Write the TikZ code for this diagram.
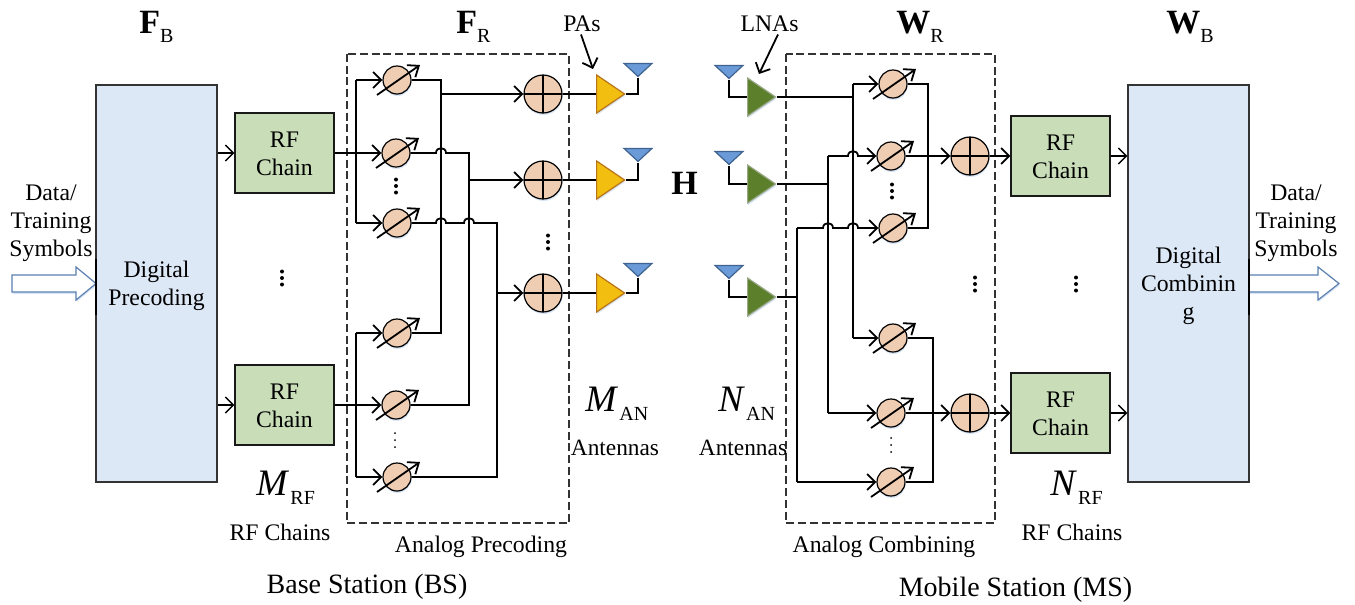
\documentclass[tikz,border=0pt]{standalone}
\usepackage{fontspec}
\setmainfont{Liberation Serif}
\usetikzlibrary{arrows.meta,calc,shapes.geometric,shadows}
\definecolor{boxblue}{HTML}{DDE8F7}
\definecolor{boxgreen}{HTML}{C8DDB8}
\definecolor{shiftfill}{HTML}{EFCDB2}
\definecolor{pafill}{HTML}{F2BE0F}
\definecolor{padraw}{HTML}{B8741A}
\definecolor{lnafill}{HTML}{5C7F2B}
\definecolor{lnadraw}{HTML}{9AA888}
\definecolor{antfill}{HTML}{6A9BD8}
\definecolor{antdraw}{HTML}{3F6390}
\definecolor{hollow}{HTML}{5B80B0}
\newcommand{\txt}{\fontsize{17.8}{21}\selectfont}
\newcommand{\bigtxt}{\fontsize{21}{25}\selectfont}
\newcommand{\boldsym}[2]{{\fontsize{25.5}{30}\selectfont\textbf{#1}}\raisebox{-7pt}{\fontsize{15}{18}\selectfont #2}}
\newcommand{\itsym}[2]{{\fontsize{28}{30}\selectfont\textit{#1}}\hspace{1pt}\raisebox{-6.75pt}{\fontsize{15}{18}\selectfont #2}}
\tikzset{
  glow/.style={drop shadow={shadow xshift=.4pt,shadow yshift=-1.5pt,fill=antfill,opacity=.25}},
  conn/.style={line width=1.35pt,black},
  arr/.style={conn,-{Straight Barb[length=6pt,width=12pt,line width=1.35pt]}},
  thinarr/.style={line width=1.05pt,black,-{Straight Barb[length=6pt,width=12pt,line width=1.05pt]}},
  bigbox/.style={draw=black!80,line width=.9pt,fill=boxblue,minimum width=121*.75pt,minimum height=397*.75pt,inner sep=0pt,align=center,font=\txt},
  rfbox/.style={draw=black!90,line width=.9pt,fill=boxgreen,minimum width=99*.75pt,minimum height=80*.75pt,inner sep=0pt,align=center,font=\txt},
  shifter/.style={circle,draw=black,line width=.9pt,fill=shiftfill,minimum size=28*.75pt,inner sep=0pt,glow},
  adder/.style={circle,draw=black,line width=.9pt,fill=shiftfill,minimum size=38*.75pt,inner sep=0pt,glow,
    path picture={\draw[line width=.9pt] (path picture bounding box.north)--(path picture bounding box.south)
      (path picture bounding box.west)--(path picture bounding box.east);}},
  amptri/.style={isosceles triangle,isosceles triangle stretches,minimum width=38*.75pt,minimum height=28*.75pt,inner sep=0pt,anchor=lower side,line width=.9pt,glow},
  pa/.style={amptri,draw=padraw,fill=pafill},
  lna/.style={amptri,draw=lnadraw,fill=lnafill},
  ant/.style={isosceles triangle,isosceles triangle stretches,minimum width=28*.75pt,minimum height=13*.75pt,inner sep=0pt,shape border rotate=-90,anchor=apex,draw=antdraw,line width=.9pt,fill=antfill},
  dashbox/.style={draw=black!80,line width=.9pt,dash pattern=on 6pt off 2.8pt},
  label/.style={font=\txt,anchor=base,inner sep=0pt},
  sym/.style={anchor=base west,inner sep=0pt},
  multi/.style={font=\txt,align=center,inner sep=0pt},
  hollowarrow/.style={draw=hollow,line width=.9pt,fill=white,glow},
}
\newcommand{\hop}[2]{-- ({#1-5},#2) .. controls ({#1-5},{#2-6.5}) and ({#1+5},{#2-6.5}) .. ({#1+5},#2)}
\newcommand{\shifternode}[3]{%
  \node[shifter] (#1) at (#2,#3) {};
  \draw[line width=1.35pt,-{Straight Barb[length=7pt,width=11pt,line width=1.35pt]}] ($(#1)+(-20,15)$) -- ($(#1)+(23,-15)$);}
\newcommand{\vdotsb}[2]{\fill (#1,{#2-6.5}) circle[radius=2] (#1,#2) circle[radius=2] (#1,{#2+6.5}) circle[radius=2];}
\newcommand{\vdotst}[2]{\fill (#1,{#2-7}) circle[radius=1] (#1,#2) circle[radius=1] (#1,{#2+7}) circle[radius=1];}
\begin{document}
\begin{tikzpicture}[x=.75pt,y=-.75pt]
\useasboundingbox (0,0) rectangle (1355,604);
% dashed groups
\draw[dashbox] (347,54) rectangle (569,523);
\draw[dashbox] (786,54) rectangle (995,523);
% hollow arrows
\draw[hollowarrow] (12,275) -- (76,275) -- (76,267) -- (96,283.5) -- (76,300) -- (76,292) -- (12,292) -- cycle;
\draw[hollowarrow] (1249,275) -- (1318,275) -- (1318,267) -- (1339,283.5) -- (1318,300) -- (1318,292) -- (1249,292) -- cycle;
% big boxes
\node[bigbox] (dp) at (156.5,283.5) {\rule{0pt}{15.2pt}Digital\\Precoding};
\node[bigbox] (dc) at (1188.5,283.5) {\rule{0pt}{15.2pt}Digital\\Combinin\\g};
\draw[line width=1.5pt] (96,259) -- (96,315);
\draw[line width=1.5pt] (1249,259) -- (1249,315);
% RF chains
\node[rfbox] (rf1) at (284.5,153) {\rule{0pt}{13.3pt}RF\\Chain};
\node[rfbox] (rf2) at (284.5,405) {\rule{0pt}{13.3pt}RF\\Chain};
\node[rfbox] (rf3) at (1060.5,156) {\rule{0pt}{13.3pt}RF\\Chain};
\node[rfbox] (rf4) at (1060.5,413) {\rule{0pt}{13.3pt}RF\\Chain};
% BS shifters
\shifternode{s1}{397}{80}
\shifternode{s2}{396}{153}
\shifternode{s3}{397}{223}
\shifternode{s4}{397}{333}
\shifternode{s5}{396}{405}
\shifternode{s6}{397}{477}
% BS adders
\node[adder] (a1) at (543,94) {};
\node[adder] (a2) at (543,180) {};
\node[adder] (a3) at (543,293) {};
% PAs and antennas
\node[pa] (pa1) at (596,94) {};
\node[pa] (pa2) at (596,180) {};
\node[pa] (pa3) at (596,293) {};
\node[ant] (ta1) at (638,78) {};
\node[ant] (ta2) at (638,163) {};
\node[ant] (ta3) at (638,278) {};
% MS shifters
\shifternode{m1}{893}{84}
\shifternode{m2}{891}{156}
\shifternode{m3}{893}{228}
\shifternode{m4}{893}{338}
\shifternode{m5}{891}{413}
\shifternode{m6}{891}{482}
\node[adder] (ma1) at (970,156) {};
\node[adder] (ma2) at (970,413) {};
\node[lna] (l1) at (747,97) {};
\node[lna] (l2) at (747,184) {};
\node[lna] (l3) at (747,297) {};
\node[ant] (ra1) at (729,80) {};
\node[ant] (ra2) at (729,166) {};
\node[ant] (ra3) at (729,280) {};
% junction coordinates
\coordinate (bl1) at (356,153);
\coordinate (bl2) at (356,405);
\coordinate (j1) at (441,94);
\coordinate (j2) at (469,180);
\coordinate (j3) at (497,293);
\coordinate (q1) at (853,97);
\coordinate (q2) at (828,184);
\coordinate (q3) at (797,297);
\coordinate (o1) at (928,156);
\coordinate (o2) at (933,413);
% BS connections
\draw[thinarr] (dp.east |- rf1) -- (rf1.west);
\draw[thinarr] (dp.east |- rf2) -- (rf2.west);
\draw[arr] (rf1.east) -- (s2.west);
\draw[arr] (rf2.east) -- (s5.west);
\draw[conn] (bl1 |- s3) -- (bl1 |- s1);
\draw[conn] (bl2 |- s6) -- (bl2 |- s4);
\draw[arr] (bl1 |- s1) -- (s1.west);
\draw[arr] (bl1 |- s3) -- (s3.west);
\draw[arr] (bl2 |- s4) -- (s4.west);
\draw[arr] (bl2 |- s6) -- (s6.west);
\draw[conn] (s1.east) -- (s1.east -| j1) -- (s4.east -| j1) -- (s4.east);
\draw[conn] (s2.east) \hop{441}{153} -- (s2.east -| j2) -- (s5.east -| j2) -- (s5.east);
\draw[conn] (s3.east) \hop{441}{223} \hop{469}{223} -- (s3.east -| j3) -- (s6.east -| j3) -- (s6.east);
\draw[arr] (j1) -- (a1.west);
\draw[arr] (j2) -- (a2.west);
\draw[arr] (j3) -- (a3.west);
\draw[conn] (a1.east) -- (pa1.lower side);
\draw[conn] (a2.east) -- (pa2.lower side);
\draw[conn] (a3.east) -- (pa3.lower side);
\draw[conn] (pa1.apex) -- (pa1.apex -| ta1.apex) -- (ta1.apex);
\draw[conn] (pa2.apex) -- (pa2.apex -| ta2.apex) -- (ta2.apex);
\draw[conn] (pa3.apex) -- (pa3.apex -| ta3.apex) -- (ta3.apex);
% MS connections
\draw[conn] (ra1.apex) -- (ra1.apex |- l1.lower side) -- (l1.lower side);
\draw[conn] (ra2.apex) -- (ra2.apex |- l2.lower side) -- (l2.lower side);
\draw[conn] (ra3.apex) -- (ra3.apex |- l3.lower side) -- (l3.lower side);
\draw[conn] (l1.apex) -- (q1);
\draw[conn] (l2.apex) -- (q2);
\draw[conn] (l3.apex) -- (q3);
\draw[conn] (q1 |- m1) -- (q1 |- m4);
\draw[conn] (q2 |- m2) -- (q2 |- m5);
\draw[conn] (q3 |- m3) -- (q3 |- m6);
\draw[arr] (q1 |- m1) -- (m1.west);
\draw[arr] (q1 |- m4) -- (m4.west);
\draw[arr] (q2 |- m2) \hop{853}{156} -- (m2.west);
\draw[arr] (q2 |- m5) -- (m5.west);
\draw[arr] (q3 |- m3) \hop{828}{228} \hop{853}{228} -- (m3.west);
\draw[arr] (q3 |- m6) -- (m6.west);
\draw[conn] (m1.east) -- (m1.east -| o1) -- (m3.east -| o1) -- (m3.east);
\draw[conn] (m4.east) -- (m4.east -| o2) -- (m6.east -| o2) -- (m6.east);
\draw[arr] (m2.east) -- (ma1.west);
\draw[arr] (m5.east) -- (ma2.west);
\draw[arr] (ma1.east) -- (rf3.west);
\draw[arr] (ma2.east) -- (rf4.west);
\draw[thinarr] (rf3.east) -- (dc.west |- rf3);
\draw[thinarr] (rf4.east) -- (dc.west |- rf4);
% dots
\vdotsb{282}{278}
\vdotsb{396}{186}
\vdotst{395}{440}
\vdotsb{548}{242}
\vdotsb{892}{191}
\vdotst{891}{445}
\vdotsb{975}{284}
\vdotsb{1076}{284}
% labels
\node[sym] (fb) at (139,33) {\boldsym{F}{B}};
\node[sym] (fr) at (456,33) {\boldsym{F}{R}};
\node[sym] (wr) at (896,33) {\boldsym{W}{R}};
\node[sym] (wb) at (1166,33) {\boldsym{W}{B}};
\node[sym] (hh) at (671,194) {\fontsize{25.5}{30}\selectfont\textbf{H}};
\node[label] (pas) at (582,31) {PAs};
\node[label] (lnas) at (769.5,31) {LNAs};
\coordinate (pastip) at (593,69);
\coordinate (lnatip) at (759,74);
\draw[arr] ($(pas.south)+(-1,3)$) -- (pastip);
\draw[arr] ($(lnas.south)+(8.5,3)$) -- (lnatip);
\node[sym] (man) at (585,411) {\itsym{M}{AN}};
\node[sym] (nan) at (718,411) {\itsym{N}{AN}};
\node[sym] (mrf) at (256,495) {\itsym{M}{RF}};
\node[sym] (nrf) at (1050,495) {\itsym{N}{RF}};
\node[label] (man2) at (615,455) {\fontsize{17.5}{21}\selectfont Antennas};
\node[label] (nan2) at (743,455) {\fontsize{17.5}{21}\selectfont Antennas};
\node[label] (rfc1) at (280,540) {RF Chains};
\node[label] (rfc2) at (1072,540) {RF Chains};
\node[label] (apc) at (481,552) {Analog Precoding};
\node[label] (acb) at (884,552) {Analog Combining};
\node[label,font=\bigtxt] (bs) at (367,593) {Base Station (BS)};
\node[label,font=\bigtxt] (ms) at (1015.5,596) {Mobile Station (MS)};
\node[multi] (d1) at (51,223) {Data/\\Training\\Symbols};
\node[multi] (d2) at (1296,223) {Data/\\Training\\Symbols};
\end{tikzpicture}
\end{document}
